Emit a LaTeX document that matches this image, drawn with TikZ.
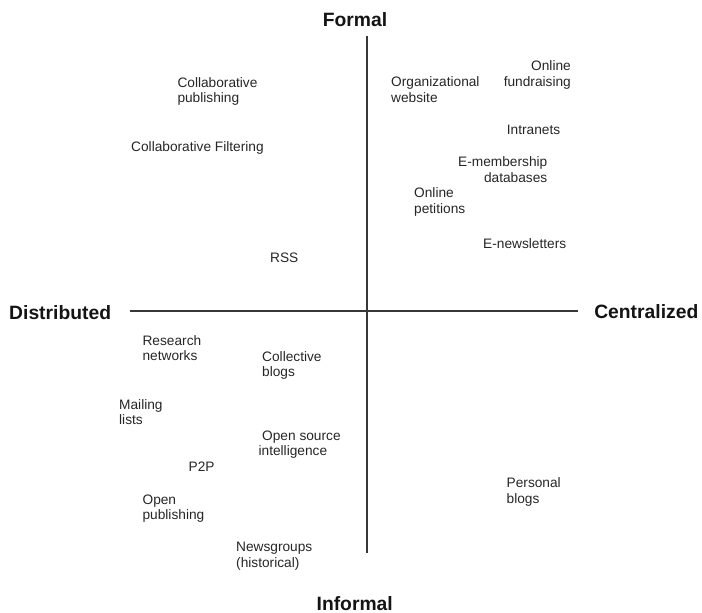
\documentclass[tikz,border=0pt]{standalone}
\usepackage{fontspec}
\setmainfont{Liberation Sans}
\tikzset{
  item/.style={font=\fontsize{13.7}{15.6}\selectfont, inner sep=0pt, align=left, text=black!85, anchor=base west},
  itemr/.style={item, align=right, anchor=base east},
  axislabel/.style={font=\fontsize{19.3}{22}\selectfont\bfseries, inner sep=0pt, text=black!92},
  axis/.style={line width=1.4pt, draw=black!78}
}
\begin{document}
\begin{tikzpicture}[x=1pt,y=-1pt]
\useasboundingbox (0,0) rectangle (702,613);
% axes
\coordinate (top) at (367,36);
\coordinate (bot) at (367,553);
\coordinate (lft) at (130,311);
\coordinate (rgt) at (578,311);
\draw[axis] (top) -- (bot);
\draw[axis] (lft) -- (rgt);
% axis labels
\node[axislabel, anchor=base] (formal) at (355,26.7) {Formal};
\node[axislabel, anchor=base] (informal) at (354.7,610) {Informal};
\node[axislabel, anchor=base west] (distributed) at (9,319.3) {Distributed};
\node[axislabel, anchor=base east] (centralized) at (698.5,318.5) {Centralized};
% upper left (multi-line nodes: base = last line)
\node[item] (collabpub) at (177.3,102.9) {Collaborative\\publishing};
\node[item] (collabfilt) at (131,151.7) {Collaborative Filtering};
\node[item] (rss) at (270,262) {RSS};
% upper right
\node[item] (orgweb) at (391,102.3) {Organizational\\website};
\node[itemr] (fundraising) at (571,86.3) {Online\\fundraising};
\node[item] (intranets) at (506.7,134) {Intranets};
\node[itemr] (emember) at (547.5,182.3) {E-membership\\databases};
\node[item] (petitions) at (414,213.3) {Online\\petitions};
\node[item] (enews) at (483,248) {E-newsletters};
% lower left
\node[item] (research) at (142.4,360.6) {Research\\networks};
\node[item] (collective) at (262,376.6) {Collective\\blogs};
\node[item] (mailing) at (119,424.6) {Mailing\\lists};
\node[item] (opensource) at (258.4,455.6) {\hspace*{3.6pt}Open source\\intelligence};
\node[item] (p2p) at (188.5,471.7) {P2P};
\node[item] (openpub) at (142.4,519.6) {Open\\publishing};
\node[item] (newsgroups) at (236,567.3) {Newsgroups\\(historical)};
% lower right
\node[item] (personal) at (506.5,503.3) {Personal\\blogs};
\end{tikzpicture}
\end{document}
